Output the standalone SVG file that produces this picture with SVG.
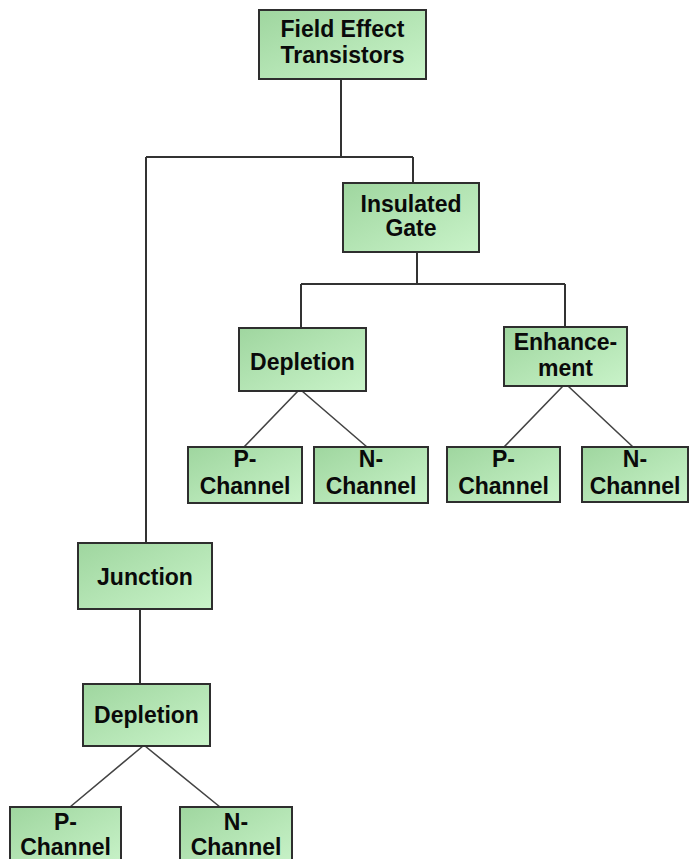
<svg xmlns="http://www.w3.org/2000/svg" width="689" height="859" viewBox="0 0 689 859">
<defs>
<linearGradient id="g" x1="0" y1="0" x2="1" y2="1">
<stop offset="0" stop-color="#9fd69f"/>
<stop offset="1" stop-color="#c9f3c9"/>
</linearGradient>
<style>
.box{fill:url(#g);stroke:#2e2e2e;stroke-width:2}
.t{font-family:"Liberation Sans",Arial,sans-serif;font-weight:bold;font-size:23px;fill:#0a0a0a;text-anchor:middle}
.c{fill:none;stroke:#333;stroke-width:2}
.d{fill:none;stroke:#444;stroke-width:1.6}
</style>
</defs>
<rect width="689" height="859" fill="#fff"/>
<g id="connectors">
<path class="c" d="M341,79 V157 M146,157 H413 M413,157 V183 M146,157 V543"/>
<path class="c" d="M417,252 V284 M301,284 H565 M301,284 V328 M565,284 V327"/>
<path class="d" d="M298,391 L244,447 M302,391 L367,447"/>
<path class="d" d="M563,386 L504,447 M568,386 L633,447"/>
<path class="c" d="M140,609 V684"/>
<path class="d" d="M143,746 L70,807 M145,746 L220,807"/>
</g>
<g id="fet"><rect class="box" x="259" y="10" width="167" height="69"/><text class="t" x="342.5" y="37">Field Effect</text><text class="t" x="342.5" y="63">Transistors</text></g>
<g id="insulated"><rect class="box" x="343" y="183" width="136" height="69"/><text class="t" x="411" y="212">Insulated</text><text class="t" x="411" y="236">Gate</text></g>
<g id="depletion1"><rect class="box" x="239" y="328" width="127" height="63"/><text class="t" x="302.5" y="370">Depletion</text></g>
<g id="p1"><rect class="box" x="188" y="447" width="114" height="56"/><text class="t" x="245" y="467">P-</text><text class="t" x="245" y="494">Channel</text></g>
<g id="n1"><rect class="box" x="314" y="447" width="114" height="56"/><text class="t" x="371" y="467">N-</text><text class="t" x="371" y="494">Channel</text></g>
<g id="enhancement"><rect class="box" x="504" y="327" width="123" height="59"/><text class="t" x="565.5" y="350">Enhance-</text><text class="t" x="565.5" y="376">ment</text></g>
<g id="p2"><rect class="box" x="447" y="447" width="113" height="55"/><text class="t" x="503.5" y="467">P-</text><text class="t" x="503.5" y="494">Channel</text></g>
<g id="n2"><rect class="box" x="582" y="447" width="106" height="55"/><text class="t" x="635" y="467">N-</text><text class="t" x="635" y="494">Channel</text></g>
<g id="junction"><rect class="box" x="78" y="543" width="134" height="66"/><text class="t" x="145" y="585">Junction</text></g>
<g id="depletion2"><rect class="box" x="83" y="684" width="127" height="62"/><text class="t" x="146.5" y="723">Depletion</text></g>
<g id="p3"><rect class="box" x="10" y="807" width="111" height="60"/><text class="t" x="65.5" y="830">P-</text><text class="t" x="65.5" y="855">Channel</text></g>
<g id="n3"><rect class="box" x="180" y="807" width="112" height="60"/><text class="t" x="236" y="830">N-</text><text class="t" x="236" y="855">Channel</text></g>
</svg>
